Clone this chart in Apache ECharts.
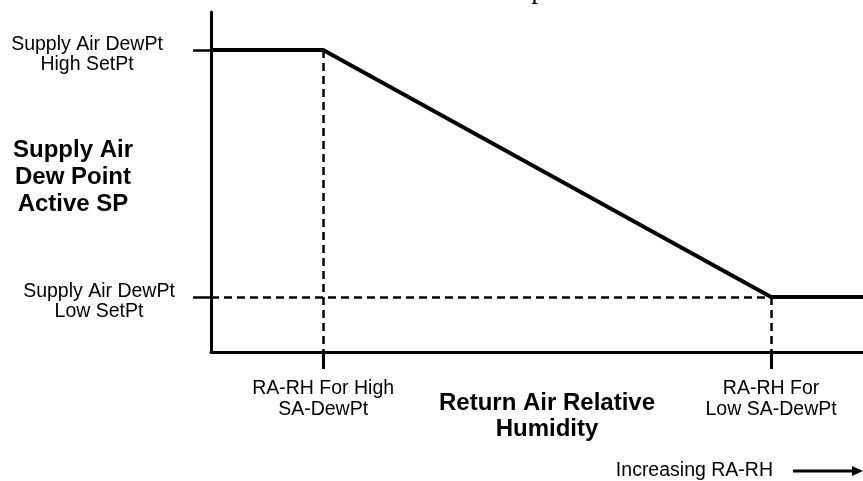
<!DOCTYPE html>
<html>
<head>
<meta charset="utf-8">
<title>Supply Air Dew Point Setpoint Reset</title>
<script src="https://cdn.jsdelivr.net/npm/echarts@6/dist/echarts.min.js"></script>
<style>
  html, body { margin: 0; padding: 0; background: #fff; }
  #chart { width: 863px; height: 481px; }
</style>
</head>
<body>
<div id="chart"></div>
<script>
// Reset schedule: return-air RH (x, % of span) -> supply-air dew point setpoint (y, % of span)
const rhBreakpoints = [0, 17.2, 85.9, 100];
const dewPointSp    = [88.8, 88.8, 16.2, 16.2];

// Marked positions on each axis
const rhForHigh = 17.2;
const rhForLow = 85.9;
const spHigh = 88.8;
const spLow = 16.2;

const xTickLabels = ['RA-RH For High\nSA-DewPt', 'RA-RH For\nLow SA-DewPt'];
const yTickLabels = ['Supply Air DewPt\nHigh SetPt', 'Supply Air DewPt\nLow SetPt'];

const xTitle = 'Return Air Relative\nHumidity';
const yTitle = 'Supply Air\nDew Point\nActive SP';
const directionNote = 'Increasing RA-RH';

const SANS = '"Liberation Sans", Arial, Helvetica, sans-serif';
const LABEL_SIZE = 19.5;

const schedule = rhBreakpoints.map((x, i) => [x, dewPointSp[i]]);

const dashStyle = { color: '#000', width: 2.5, type: [8, 5] };

// wrap every line of a multi-line string in the same rich-text tag
function tagLines(s, tag) {
  return s.split('\n').map(line => '{' + tag + '|' + line + '}').join('\n');
}

const chart = echarts.init(document.getElementById('chart'), null, { renderer: 'canvas' });

chart.setOption({
  backgroundColor: '#fff',
  animation: false,
  grid: {
    left: 211, right: 0, top: 12, bottom: 129,
    containLabel: false,
    outerBoundsMode: 'none'
  },
  xAxis: {
    type: 'value',
    min: 0,
    max: 100,
    name: xTitle,
    nameLocation: 'middle',
    nameGap: 38,
    nameMoveOverlap: false,
    nameTextStyle: {
      fontFamily: SANS, fontWeight: 'bold', fontSize: 24, lineHeight: 26,
      color: '#000', padding: [0, 0, 0, 20]
    },
    axisLine: { show: true, lineStyle: { color: '#000', width: 3 } },
    axisTick: {
      show: true, inside: false, length: 17,
      customValues: [rhForHigh, rhForLow],
      lineStyle: { color: '#000', width: 3 }
    },
    axisLabel: {
      show: true,
      customValues: [rhForHigh, rhForLow],
      margin: 26,
      fontFamily: SANS, fontSize: LABEL_SIZE, lineHeight: 21, color: '#000',
      align: 'center',
      formatter: v => (Math.abs(v - rhForHigh) < 1e-6 ? xTickLabels[0] : xTickLabels[1])
    },
    splitLine: { show: false }
  },
  yAxis: {
    type: 'value',
    min: 0,
    max: 100,
    name: tagLines(yTitle, 't'),
    nameLocation: 'middle',
    nameRotate: 0,
    nameGap: 73,
    nameMoveOverlap: false,
    nameTextStyle: {
      color: '#000',
      padding: [0, 0, 10, 0],
      rich: {
        t: {
          fontFamily: SANS, fontWeight: 'bold', fontSize: 24, lineHeight: 27,
          color: '#000', width: 130, align: 'center'
        }
      }
    },
    axisLine: { show: true, lineStyle: { color: '#000', width: 3 } },
    axisTick: {
      show: true, inside: false, length: 18,
      customValues: [spHigh, spLow],
      lineStyle: { color: '#000', width: 2.5 }
    },
    axisLabel: {
      show: true,
      customValues: [spHigh, spLow],
      margin: 112,
      align: 'center',
      verticalAlign: 'middle',
      padding: [9, 0, 0, 0],
      formatter: v => (Math.abs(v - spHigh) < 1e-6
        ? tagLines(yTickLabels[0], 'hi')
        : tagLines(yTickLabels[1], 'lo')),
      rich: {
        hi: { fontFamily: SANS, fontSize: LABEL_SIZE, lineHeight: 20, color: '#000', padding: [0, 24, 0, 0] },
        lo: { fontFamily: SANS, fontSize: LABEL_SIZE, lineHeight: 20, color: '#000' }
      }
    },
    splitLine: { show: false }
  },
  series: [
    {
      type: 'line',
      data: schedule,
      showSymbol: false,
      symbol: 'none',
      lineStyle: { color: '#000', width: 4, join: 'miter' },
      z: 5,
      markLine: {
        silent: true,
        symbol: ['none', 'none'],
        label: { show: false },
        lineStyle: dashStyle,
        data: [
          [{ coord: [rhForHigh, spHigh] }, { coord: [rhForHigh, 0] }],
          [{ coord: [0, spLow] }, { coord: [rhForLow, spLow] }],
          [{ coord: [rhForLow, spLow] }, { coord: [rhForLow, 0] }]
        ]
      }
    }
  ],
  graphic: [
    {
      type: 'text',
      x: 553, y: 4.6,
      style: {
        text: 'Setpt',
        font: '28px "Liberation Serif", "Times New Roman", serif',
        fill: '#000',
        textAlign: 'right',
        textVerticalAlign: 'bottom'
      }
    },
    {
      type: 'text',
      x: 773, y: 471,
      style: {
        text: directionNote,
        font: LABEL_SIZE + 'px ' + SANS,
        fill: '#000',
        textAlign: 'right',
        textVerticalAlign: 'middle'
      }
    },
    {
      type: 'line',
      shape: { x1: 793, y1: 471, x2: 856, y2: 471 },
      style: { stroke: '#000', lineWidth: 3 }
    },
    {
      type: 'polygon',
      shape: { points: [[852, 466], [863, 471], [852, 476]] },
      style: { fill: '#000' }
    }
  ]
});
</script>
</body>
</html>
